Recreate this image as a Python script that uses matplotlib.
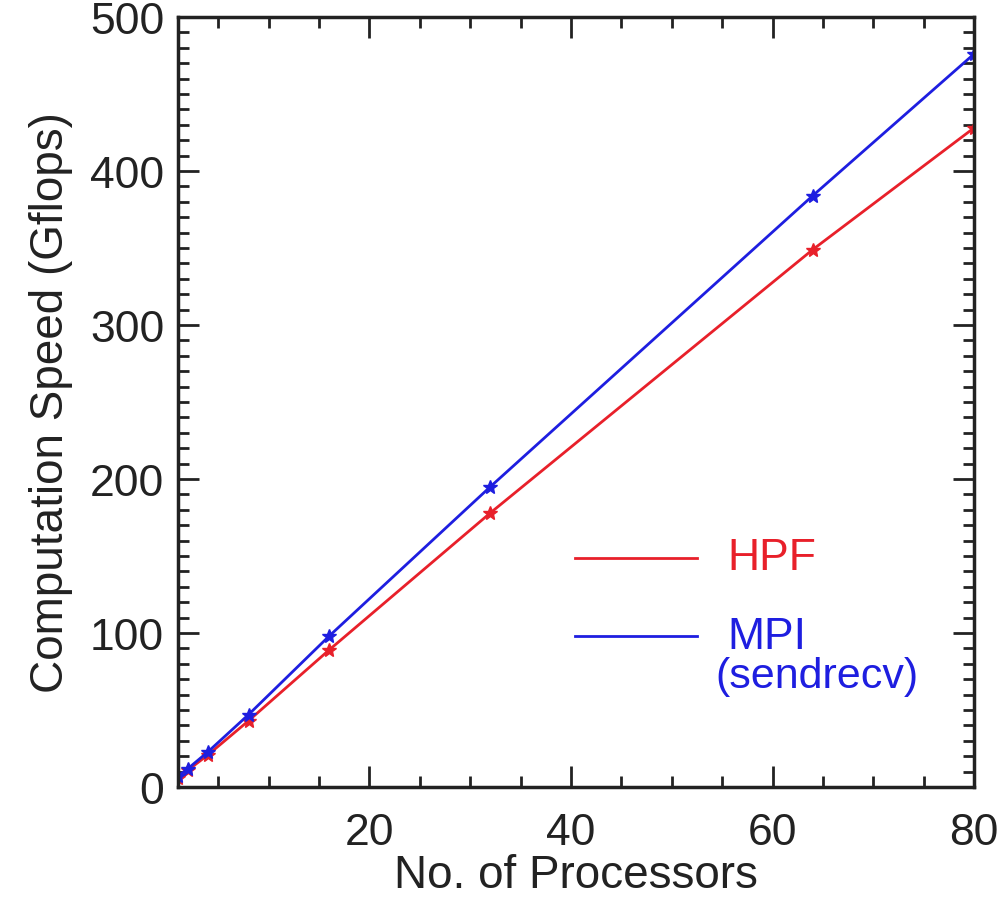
import matplotlib
matplotlib.use("Agg")
import matplotlib.pyplot as plt
from matplotlib.ticker import MultipleLocator

############
# Data
procs = [1, 2, 4, 8, 16, 32, 64, 80]
hpf = [6, 11, 21, 43, 89, 178, 349, 428]
mpi = [7, 12, 23, 47, 98, 195, 384, 476]
############

plt.rcParams['font.family'] = ['Liberation Sans', 'DejaVu Sans']

fig = plt.figure(figsize=(10.05, 9.04), dpi=100)
ax = fig.add_axes([0.1771, 0.1283, 0.7921, 0.8518])

ax.plot(procs, hpf, color='#e8202a', lw=2, marker='*', ms=10)
ax.plot(procs, mpi, color='#1e1ee0', lw=2, marker='*', ms=10)

ax.set_xlim(1, 80)
ax.set_ylim(0, 500)
ax.xaxis.set_major_locator(MultipleLocator(20))
ax.xaxis.set_minor_locator(MultipleLocator(5))
ax.yaxis.set_major_locator(MultipleLocator(100))
ax.yaxis.set_minor_locator(MultipleLocator(10))

ax.tick_params(which='both', direction='in', top=True, right=True,
               width=2, colors='#222222', labelcolor='#222222')
ax.tick_params(which='major', length=15, labelsize=32)
ax.tick_params(axis='x', which='major', pad=18)
ax.tick_params(axis='y', which='major', pad=10)
ax.tick_params(which='minor', length=8)
for s in ax.spines.values():
    s.set_linewidth(2.5)
    s.set_color('#222222')

ax.set_xlabel('No. of Processors', fontsize=33, color='#222222', labelpad=0)
ax.set_ylabel('Computation Speed (Gflops)', fontsize=33, color='#222222', labelpad=12)

# hand-drawn legend
ax.plot([40.4, 52.5], [149, 149], color='#e8202a', lw=2)
ax.plot([40.4, 52.5], [98, 98], color='#1e1ee0', lw=2)
ax.text(55.5, 149, 'HPF', color='#e8202a', fontsize=32, va='center')
ax.text(55.5, 98, 'MPI', color='#1e1ee0', fontsize=32, va='center')
ax.text(54.3, 72, '(sendrecv)', color='#1e1ee0', fontsize=31, va='center')

fig.savefig('out.png', dpi=100)
plt.close(fig)
